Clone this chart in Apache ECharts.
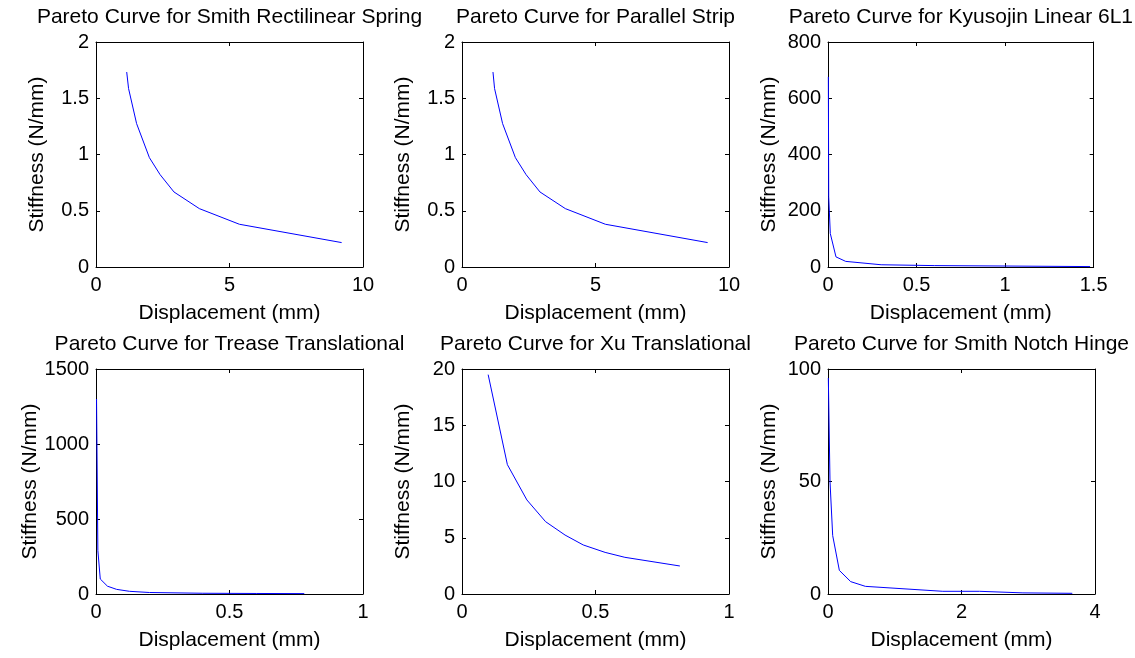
<!DOCTYPE html>
<html>
<head>
<meta charset="utf-8">
<title>Pareto Curves</title>
<script src="https://cdn.jsdelivr.net/npm/echarts@6/dist/echarts.min.js"></script>
<style>
  html, body { margin: 0; padding: 0; background: #fff; }
  #chart { width: 1135px; height: 658px; }
</style>
</head>
<body>
<div id="chart"></div>
<script>
// Displacement (mm) / stiffness (N/mm) pairs along each Pareto front
const smithSpringDisp  = [1.15, 1.22, 1.52, 2.0, 2.40, 2.92, 3.87, 5.37, 9.2];
const smithSpringStiff = [1.733, 1.586, 1.275, 0.972, 0.821, 0.667, 0.519, 0.380, 0.217];

const parallelDisp  = [1.16, 1.22, 1.52, 2.0, 2.40, 2.92, 3.87, 5.37, 9.2];
const parallelStiff = [1.733, 1.586, 1.275, 0.972, 0.821, 0.667, 0.519, 0.380, 0.217];

const kyusojinDisp  = [0.002, 0.004, 0.013, 0.045, 0.1, 0.3, 0.6, 1.0, 1.48];
const kyusojinStiff = [676, 250, 119, 36, 20, 8, 5, 3.5, 1.5];

const treaseDisp  = [0.002, 0.007, 0.016, 0.043, 0.077, 0.125, 0.2, 0.4, 0.6, 0.78];
const treaseStiff = [1300, 290, 100, 52, 31, 18, 10, 5, 3.5, 2.6];

const xuDisp  = [0.098, 0.17, 0.243, 0.313, 0.386, 0.454, 0.536, 0.61, 0.816];
const xuStiff = [19.5, 11.5, 8.36, 6.43, 5.24, 4.36, 3.7, 3.26, 2.49];

const notchDisp  = [0.005, 0.03, 0.07, 0.17, 0.34, 0.56, 1.72, 2.27, 2.92, 3.66];
const notchStiff = [96, 50, 26, 10.5, 5.5, 3.4, 1.2, 1.2, 0.5, 0.3];

// Panel titles and axis ranges: [max, tick step]
const titles = [
  'Pareto Curve for Smith Rectilinear Spring',
  'Pareto Curve for Parallel Strip',
  'Pareto Curve for Kyusojin Linear 6L1',
  'Pareto Curve for Trease Translational',
  'Pareto Curve for Xu Translational',
  'Pareto Curve for Smith Notch Hinge'
];
const xRanges = [[10, 5], [10, 5], [1.5, 0.5], [1, 0.5], [1, 0.5], [4, 2]];
const yRanges = [[2, 0.5], [2, 0.5], [800, 200], [1500, 500], [20, 5], [100, 50]];
const xLabel = 'Displacement (mm)';
const yLabel = 'Stiffness (N/mm)';

const curves = [
  [smithSpringDisp, smithSpringStiff],
  [parallelDisp, parallelStiff],
  [kyusojinDisp, kyusojinStiff],
  [treaseDisp, treaseStiff],
  [xuDisp, xuStiff],
  [notchDisp, notchStiff]
];

const FONT = 'Liberation Sans, Arial, sans-serif';
const colLeft = [96, 462, 828];
const rowTop = [42, 369];
const boxW = 267, boxH = 225;

const grids = [], xAxes = [], yAxes = [], series = [];
const lineStyleAxis = { color: '#000', width: 1 };
const plainNumber = v => String(v);
const textStyle = size => ({ color: '#000', fontFamily: FONT, fontSize: size });

curves.forEach((c, i) => {
  const col = i % 3, row = Math.floor(i / 3);
  grids.push({ left: colLeft[col], top: rowTop[row], width: boxW, height: boxH, containLabel: false });
  const [xMax, xStep] = xRanges[i];
  const [yMax, yStep] = yRanges[i];
  const common = {
    type: 'value', gridIndex: i,
    splitLine: { show: false },
    axisLine: { show: true, onZero: false, lineStyle: lineStyleAxis },
    axisTick: { show: true, inside: true, length: 4, lineStyle: lineStyleAxis }
  };
  // bottom x axis with labels, top x axis carries the panel title
  xAxes.push(Object.assign({}, common, {
    position: 'bottom', min: 0, max: xMax, interval: xStep,
    axisLabel: Object.assign(textStyle(20), { margin: 8, formatter: plainNumber }),
    name: xLabel, nameLocation: 'middle', nameGap: 36,
    nameTextStyle: textStyle(21)
  }));
  xAxes.push(Object.assign({}, common, {
    position: 'top', min: 0, max: xMax, interval: xStep,
    axisLabel: { show: false },
    name: titles[i], nameLocation: 'middle', nameGap: 14,
    nameTextStyle: textStyle(21)
  }));
  yAxes.push(Object.assign({}, common, {
    position: 'left', min: 0, max: yMax, interval: yStep,
    axisLabel: Object.assign(textStyle(20), { margin: 7, formatter: plainNumber }),
    name: yLabel, nameLocation: 'middle', nameGap: 48,
    nameTextStyle: textStyle(21)
  }));
  yAxes.push(Object.assign({}, common, {
    position: 'right', min: 0, max: yMax, interval: yStep,
    axisLabel: { show: false }
  }));
  series.push({
    type: 'line',
    xAxisIndex: i * 2, yAxisIndex: i * 2,
    data: c[0].map((d, k) => [d, c[1][k]]),
    showSymbol: false, symbol: 'none',
    lineStyle: { color: '#0000ff', width: 1 },
    animation: false
  });
});

const chart = echarts.init(document.getElementById('chart'), null, { renderer: 'canvas' });
chart.setOption({
  backgroundColor: '#fff',
  animation: false,
  grid: grids,
  xAxis: xAxes,
  yAxis: yAxes,
  series: series
});
</script>
</body>
</html>
